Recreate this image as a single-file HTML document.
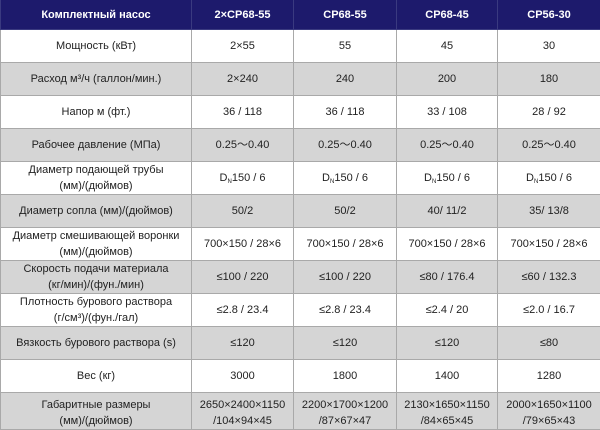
<!DOCTYPE html>
<html><head><meta charset="utf-8"><style>
body{margin:0;width:600px;height:430px;overflow:hidden;background:#fff;font-family:"Liberation Sans",Arial,sans-serif;}
table{border-collapse:collapse;table-layout:fixed;width:600px;position:absolute;left:0;top:0;}
td{border:1px solid #a9a9a9;text-align:center;vertical-align:middle;font-size:11px;color:#222;padding:0;line-height:16px;}
tr.h td{background:#1d1a6c;color:#fff;font-weight:bold;height:29px;border-color:#3a3a80;border-top:none;font-size:11px;}
tr.g td{background:#d5d5d5;}
tr td{height:32px;}
tr.last td{height:33px;padding-top:3px;}
sub{font-size:6px;vertical-align:-2px;line-height:0;}
</style></head><body>
<table>
<colgroup><col style="width:191px"><col style="width:102px"><col style="width:103px"><col style="width:101px"><col style="width:103px"></colgroup>
<tr class="h"><td>Комплектный насос</td><td>2×CP68-55</td><td>CP68-55</td><td>CP68-45</td><td>CP56-30</td></tr>
<tr><td>Мощность (кВт)</td><td>2×55</td><td>55</td><td>45</td><td>30</td></tr>
<tr class="g"><td>Расход м³/ч (галлон/мин.)</td><td>2×240</td><td>240</td><td>200</td><td>180</td></tr>
<tr><td>Напор м (фт.)</td><td>36 / 118</td><td>36 / 118</td><td>33 / 108</td><td>28 / 92</td></tr>
<tr class="g"><td>Рабочее давление (МПа)</td><td>0.25～0.40</td><td>0.25～0.40</td><td>0.25～0.40</td><td>0.25～0.40</td></tr>
<tr><td>Диаметр подающей трубы<br>(мм)/(дюймов)</td><td>D<sub>N</sub>150 / 6</td><td>D<sub>N</sub>150 / 6</td><td>D<sub>N</sub>150 / 6</td><td>D<sub>N</sub>150 / 6</td></tr>
<tr class="g"><td>Диаметр сопла (мм)/(дюймов)</td><td>50/2</td><td>50/2</td><td>40/ 11/2</td><td>35/ 13/8</td></tr>
<tr><td>Диаметр смешивающей воронки<br>(мм)/(дюймов)</td><td>700×150 / 28×6</td><td>700×150 / 28×6</td><td>700×150 / 28×6</td><td>700×150 / 28×6</td></tr>
<tr class="g"><td>Скорость подачи материала<br>(кг/мин)/(фун./мин)</td><td>≤100 / 220</td><td>≤100 / 220</td><td>≤80 / 176.4</td><td>≤60 / 132.3</td></tr>
<tr><td>Плотность бурового раствора<br>(г/см³)/(фун./гал)</td><td>≤2.8 / 23.4</td><td>≤2.8 / 23.4</td><td>≤2.4 / 20</td><td>≤2.0 / 16.7</td></tr>
<tr class="g"><td>Вязкость бурового раствора (s)</td><td>≤120</td><td>≤120</td><td>≤120</td><td>≤80</td></tr>
<tr><td>Вес (кг)</td><td>3000</td><td>1800</td><td>1400</td><td>1280</td></tr>
<tr class="g last"><td>Габаритные размеры<br>(мм)/(дюймов)</td><td>2650×2400×1150<br>/104×94×45</td><td>2200×1700×1200<br>/87×67×47</td><td>2130×1650×1150<br>/84×65×45</td><td>2000×1650×1100<br>/79×65×43</td></tr>
</table>
</body></html>
